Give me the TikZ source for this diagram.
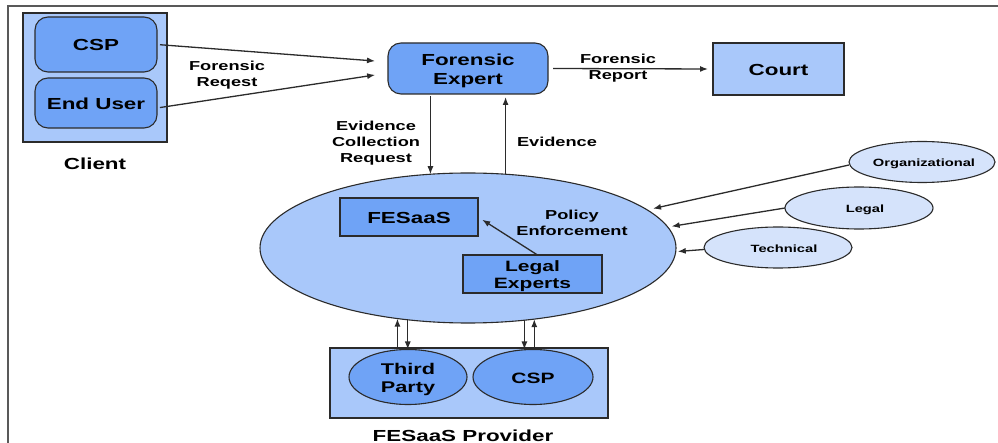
\documentclass[tikz,border=0pt]{standalone}
\usepackage{fontspec}
\setmainfont{Liberation Sans}
\usepackage{graphicx}
\usetikzlibrary{shapes.geometric,arrows.meta,calc}
\definecolor{lightb}{HTML}{A9C8FA}
\definecolor{midb}{HTML}{6FA3F6}
\definecolor{paleb}{HTML}{D5E3FB}
\definecolor{edgec}{HTML}{2B2B2B}
\newcommand{\hx}[1]{\scalebox{1.4}[1]{\raisebox{-2.5pt}[\height][\depth]{\begin{tabular}{@{}c@{}}#1\end{tabular}}}}
\begin{document}
\begin{tikzpicture}[x=1pt,y=-1pt,
  every node/.style={inner sep=0pt, outer sep=0pt},
  bigf/.style={font=\fontsize{16}{19.5}\selectfont\bfseries},
  midf/.style={font=\fontsize{15}{17.5}\selectfont\bfseries},
  lblf/.style={font=\fontsize{13}{16}\selectfont\bfseries},
  smallf/.style={font=\fontsize{10.5}{12.5}\selectfont\bfseries},
  box/.style={draw=edgec, line width=1.1pt, fill=midb},
  rbox/.style={box, rounded corners=13pt},
  lbox/.style={draw=edgec, line width=1.1pt, fill=lightb},
  oval/.style={ellipse, draw=edgec, line width=1.1pt},
  arr/.style={-{Latex[length=8pt,width=6pt]}, line width=1.3pt, draw=edgec},
]
\fill[white] (0,0) rectangle (998,443);
\useasboundingbox (0,0) rectangle (998,443);
\draw[line width=1.5pt, color=black!65] (8,443) -- (8,6) -- (998,6);

% client
\node[lbox, minimum width=144pt, minimum height=129pt] (client) at (95,77.5) {};
\node[rbox, bigf, minimum width=122pt, minimum height=55pt] (csp) at (96,44.5) {\hx{CSP}};
\node[rbox, bigf, minimum width=122pt, minimum height=50pt] (eu) at (96,103) {\hx{End User}};
\node[bigf] (clientl) at (95,163) {\hx{Client}};

% expert and court
\node[rbox, bigf, minimum width=160pt, minimum height=51pt] (fe) at (468,68.5) {\hx{Forensic\\Expert}};
\node[lbox, bigf, minimum width=131pt, minimum height=52pt] (court) at (778.5,69) {\hx{Court}};

% policy enforcement
\node[oval, fill=lightb, minimum width=416pt, minimum height=150pt] (pe) at (468,248) {};
\node[box, bigf, minimum width=138pt, minimum height=38pt] (fes) at (409,217) {\hx{FESaaS}};
\node[box, midf, minimum width=139pt, minimum height=38pt] (le) at (532.5,274) {\hx{Legal\\Experts}};
\node[lblf] (pol) at (572,222) {\hx{Policy\\Enforcement}};

% provider
\node[lbox, minimum width=278pt, minimum height=70pt] (prov) at (469,383) {};
\node[oval, fill=midb, font=\fontsize{15.5}{18}\selectfont\bfseries, minimum width=118pt, minimum height=55pt] (tp) at (408,377) {\hx{Third\\Party}};
\node[oval, fill=midb, midf, minimum width=120pt, minimum height=55pt] (csp2) at (533,377) {\hx{CSP}};
\node[bigf] (provl) at (463,435) {\hx{FESaaS Provider}};

% policy sources
\node[oval, fill=paleb, minimum width=146pt, minimum height=41pt, label={[smallf, xshift=2pt]center:\hx{Organizational}}] (org) at (922,162) {};
\node[oval, fill=paleb, minimum width=148pt, minimum height=42pt, label={[smallf, xshift=6pt]center:\hx{Legal}}] (leg) at (859,208) {};
\node[oval, fill=paleb, minimum width=148pt, minimum height=41pt, label={[smallf, xshift=6pt]center:\hx{Technical}}] (tech) at (778,247.5) {};

% labels
\node[lblf] (reql) at (227,73) {\hx{Forensic\\Reqest}};
\node[lblf] (repl) at (618,66) {\hx{Forensic\\Report}};
\node[lblf] (ecrl) at (376,141) {\hx{Evidence\\Collection\\Request}};
\node[lblf] (evl) at (557,141) {\hx{Evidence}};

% connectors
\draw[arr, shorten <=3pt, shorten >=13pt] (csp.east) -- ([yshift=6.5pt]fe.west);
\draw[arr, shorten <=3pt, shorten >=13pt] ([yshift=-5pt]eu.east) -- ([yshift=-4.5pt]fe.west);
\draw[arr, shorten <=5pt, shorten >=5pt] (fe.east) -- (court.west);
\draw[arr, shorten <=2pt] (pe.117.9 |- fe.south) -- (pe.117.9);
\draw[arr, shorten >=3pt] (pe.63.4) -- (pe.63.4 |- fe.south);
\draw[arr, shorten >=6pt] ([yshift=-3pt]org.west) -- (pe.12);
\draw[arr, shorten >=4pt] (leg.west) -- (pe.6.2);
\draw[arr, shorten >=2pt] ([yshift=-2pt]tech.west) -- (pe.359.2);
\draw[arr, shorten >=5pt] ([xshift=5pt]le.north) -- (fes.east);
\draw[arr, shorten <=2pt] (pe.225.2 |- tp.north) -- (pe.225.2);
\draw[arr] (pe.230.6) -- (pe.230.6 |- tp.north);
\draw[arr] (pe.308.9) -- (pe.308.9 |- csp2.north);
\draw[arr, shorten <=2pt] (pe.313.8 |- csp2.north) -- (pe.313.8);
\end{tikzpicture}
\end{document}
